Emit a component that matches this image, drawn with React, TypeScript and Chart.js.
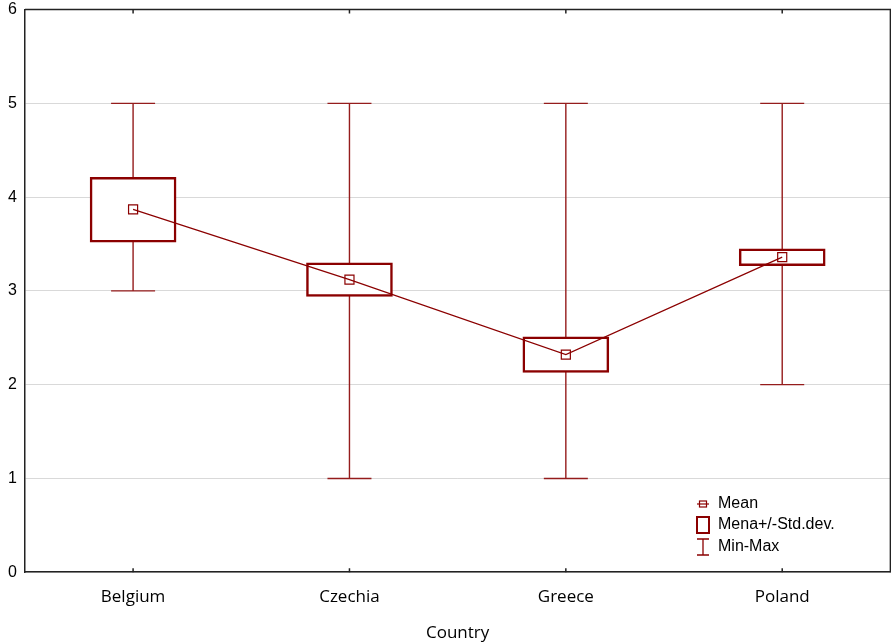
import React, { useEffect, useRef } from "react";
import { Chart, registerables } from "chart.js";

Chart.register(...registerables);

const categories = ["Belgium", "Czechia", "Greece", "Poland"];
const means = [3.87, 3.12, 2.32, 3.36];
const sdLow = [3.52, 2.94, 2.13, 3.27];
const sdHigh = [4.21, 3.30, 2.51, 3.45];
const mins = [3, 1, 1, 2];
const maxs = [5, 5, 5, 5];
const yTicks = [0, 1, 2, 3, 4, 5, 6];
const legendLabels = ["Mean", "Mena+/-Std.dev.", "Min-Max"];

const DARK = "#8b0000";
const WHISK = "#951c1c";
const SHIFT_X = 7;
const SHIFT_Y = 8;
const EXTRA_H = 9;

const whiskerPlugin = {
  id: "whiskers",
  beforeDatasetsDraw(chart: any) {
    const { ctx, scales } = chart;
    const x = scales.x;
    const y = scales.y;
    ctx.save();
    ctx.strokeStyle = WHISK;
    ctx.lineWidth = 1.4;
    categories.forEach((_, i) => {
      const cx = x.getPixelForValue(i);
      const yMin = y.getPixelForValue(mins[i]);
      const yMax = y.getPixelForValue(maxs[i]);
      ctx.beginPath();
      ctx.moveTo(cx, yMin);
      ctx.lineTo(cx, yMax);
      ctx.moveTo(cx - 22, yMin);
      ctx.lineTo(cx + 22, yMin);
      ctx.moveTo(cx - 22, yMax);
      ctx.lineTo(cx + 22, yMax);
      ctx.stroke();
    });
    ctx.restore();
  },
  afterDraw(chart: any) {
    const { ctx, chartArea, scales } = chart;
    const x = scales.x;
    ctx.save();
    ctx.strokeStyle = "#222";
    ctx.lineWidth = 1.5;
    ctx.beginPath();
    ctx.moveTo(chartArea.left, chartArea.top);
    ctx.lineTo(chartArea.right, chartArea.top);
    ctx.lineTo(chartArea.right, chartArea.bottom);
    ctx.stroke();
    categories.forEach((_, i) => {
      const cx = x.getPixelForValue(i);
      ctx.beginPath();
      ctx.moveTo(cx, chartArea.bottom);
      ctx.lineTo(cx, chartArea.bottom - 4);
      ctx.moveTo(cx, chartArea.top);
      ctx.lineTo(cx, chartArea.top + 4);
      ctx.stroke();
    });
    // legend (page coords -> canvas coords)
    const lx = 703;
    const tx = 718;
    const rows = [504, 525, 547].map((r) => r + SHIFT_Y);
    ctx.strokeStyle = DARK;
    ctx.lineWidth = 1.2;
    ctx.beginPath();
    ctx.moveTo(lx - 6, rows[0]);
    ctx.lineTo(lx + 6, rows[0]);
    ctx.stroke();
    ctx.strokeRect(lx - 3.5, rows[0] - 3, 7, 6);
    ctx.lineWidth = 2;
    ctx.strokeRect(lx - 6, rows[1] - 8, 12, 16);
    ctx.lineWidth = 1.3;
    ctx.beginPath();
    ctx.moveTo(lx - 6, rows[2] - 8);
    ctx.lineTo(lx + 6, rows[2] - 8);
    ctx.moveTo(lx, rows[2] - 8);
    ctx.lineTo(lx, rows[2] + 8);
    ctx.moveTo(lx - 6, rows[2] + 8);
    ctx.lineTo(lx + 6, rows[2] + 8);
    ctx.stroke();
    ctx.fillStyle = "#000";
    ctx.font = "16px 'Liberation Sans', Arial, sans-serif";
    ctx.textBaseline = "middle";
    ctx.textAlign = "left";
    legendLabels.forEach((t, i) => ctx.fillText(t, tx, rows[i]));
    ctx.restore();
  },
};

export default function App() {
  const ref = useRef<HTMLCanvasElement>(null);
  useEffect(() => {
    document.body.style.margin = "0";
    const boxData = categories.map((_, i) => [sdLow[i], sdHigh[i]]);
    const chart = new Chart(ref.current as HTMLCanvasElement, {
      type: "bar",
      data: {
        labels: categories,
        datasets: [
          {
            type: "bar",
            label: "Std",
            data: boxData as any,
            backgroundColor: "#ffffff",
            borderColor: DARK,
            borderWidth: 2.5,
            borderSkipped: false,
            barThickness: 86,
            order: 2,
          },
          {
            type: "line",
            label: "Mean",
            data: means,
            borderColor: DARK,
            borderWidth: 1.2,
            pointStyle: "rect",
            pointRadius: 6.4,
            pointBorderWidth: 1.2,
            pointBorderColor: DARK,
            pointBackgroundColor: "rgba(0,0,0,0)",
            fill: false,
            order: 1,
          } as any,
        ],
      },
      options: {
        responsive: false,
        animation: false,
        layout: { padding: { left: 0, top: 0, right: 0, bottom: 0 } },
        plugins: { legend: { display: false }, tooltip: { enabled: false } },
        scales: {
          x: {
            type: "category",
            offset: true,
            grid: { display: false, drawTicks: false },
            border: { display: true, color: "#222", width: 1.5 },
            ticks: {
              color: "#000",
              padding: 15,
              font: { family: "'Open Sans', sans-serif", size: 17 },
            },
            title: {
              display: true,
              text: "Country",
              color: "#000",
              padding: { top: 0, bottom: 0 },
              font: { family: "'Open Sans', sans-serif", size: 17 },
            },
          },
          y: {
            min: 0,
            max: 6,
            afterBuildTicks: (axis: any) => {
              axis.ticks = yTicks.map((v) => ({ value: v }));
            },
            grid: { color: "#d9d9d9", lineWidth: 1, drawTicks: false },
            border: { display: true, color: "#222", width: 1.5 },
            ticks: {
              color: "#000",
              padding: 8,
              font: { family: "'Liberation Sans', Arial, sans-serif", size: 16 },
            },
          },
        },
      },
      plugins: [whiskerPlugin],
    });
    return () => chart.destroy();
  }, []);
  return (
    <div style={{ width: 891, height: 642, overflow: "hidden", position: "relative" }}>
      <canvas
        ref={ref}
        width={891 + SHIFT_X}
        height={642 + EXTRA_H}
        style={{ position: "absolute", left: 0, top: -SHIFT_Y }}
      />
    </div>
  );
}
